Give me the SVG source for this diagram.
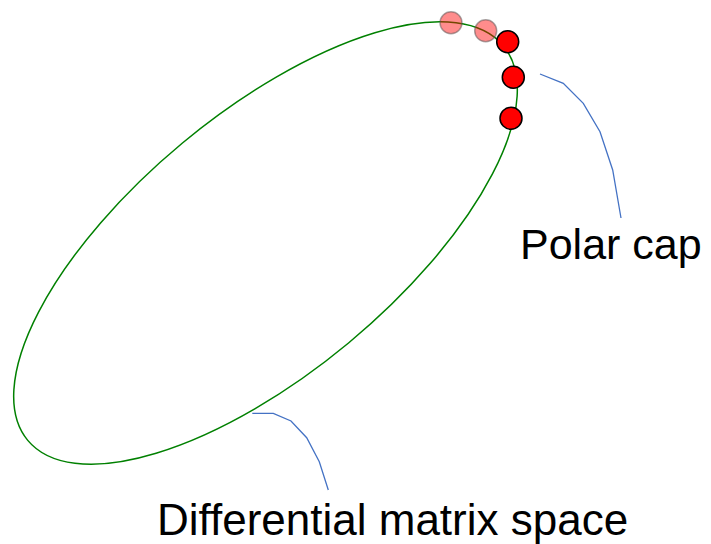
<svg xmlns="http://www.w3.org/2000/svg" width="711" height="544" viewBox="0 0 711 544">
<style>
.lbl{font-family:"Liberation Sans",Arial,sans-serif;font-size:43px;fill:#000}
.lead{fill:none;stroke:#4472c4;stroke-width:1.3}
.pt{fill:#ff0000;stroke:#000;stroke-width:1.5}
.ghost{fill:#ff0000;fill-opacity:0.45;stroke:#555;stroke-opacity:0.5;stroke-width:1.5}
</style>
<rect width="711" height="544" fill="#fff"/>
<g id="space">
<ellipse cx="265.5" cy="243" rx="309" ry="130" transform="rotate(-39.7 265.5 243)" fill="none" stroke="#008000" stroke-width="1.5"/>
</g>
<g id="points">
<circle class="ghost" cx="451" cy="22.7" r="11"/>
<circle class="ghost" cx="485.7" cy="30.7" r="11"/>
<circle class="pt" cx="507.7" cy="41.7" r="11"/>
<circle class="pt" cx="513.3" cy="77.3" r="11"/>
<circle class="pt" cx="511" cy="118.3" r="11"/>
</g>
<g id="connectors">
<polyline class="lead" points="540,74 563.3,83.3 583.3,103.3 600,131.7 612.7,170 621,218"/>
<polyline class="lead" points="252.3,413.3 273.3,413.3 291,421 306.7,437.7 319.3,461.7 328.3,490"/>
</g>
<g id="label-polar"><text class="lbl" x="520" y="258.5">Polar cap</text></g>
<g id="label-space"><text class="lbl" x="157" y="534.5" style="font-size:44px">Differential matrix space</text></g>
</svg>
